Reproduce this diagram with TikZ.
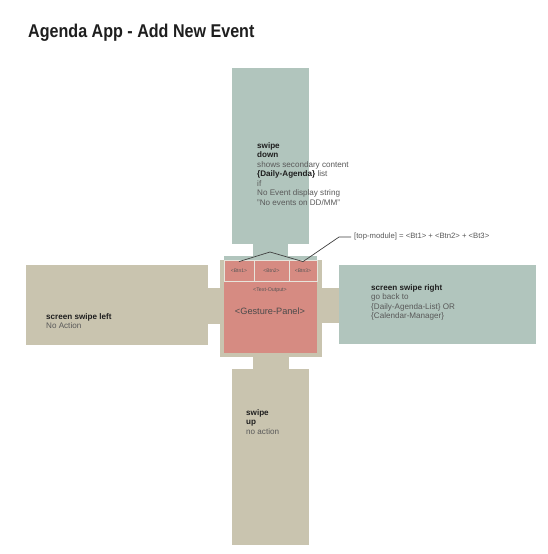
\documentclass[tikz,border=0pt]{standalone}
\usepackage{fontspec}
\setmainfont{Liberation Sans}
\newfontfamily\headfont[FakeStretch=0.87]{Liberation Sans}
\usepackage{tikz}
\usetikzlibrary{positioning}

\definecolor{sage}{HTML}{B1C5BD}
\definecolor{sand}{HTML}{C9C4AF}
\definecolor{salmon}{HTML}{D68B82}
\definecolor{ink}{HTML}{1E1E1E}
\definecolor{soft}{HTML}{595959}

\begin{document}
\begin{tikzpicture}[x=1pt, y=-1pt,
		cell/.style={fill=salmon, draw=sand!45!white, line width=0.8pt, minimum height=21pt, inner sep=0pt, text=ink!75, font=\fontsize{5}{5}\selectfont},
		gist/.style={anchor=north west, align=left, inner sep=0pt, text=soft, font=\fontsize{8.1}{9.5}\selectfont}]
		\useasboundingbox[fill=white] (0, 0) rectangle (547, 554);
		% swipe targets
		\fill[sage] (232, 68) rectangle (309, 244);
		\fill[sage] (253, 244) rectangle (288, 256);
		\fill[sage] (224, 256) rectangle (317, 260);
		\fill[sand] (26, 265) rectangle (208, 345);
		\fill[sand] (208, 288) rectangle (220, 324);
		\fill[sage] (339, 265) rectangle (536, 344);
		\fill[sand] (322, 288) rectangle (339, 323);
		\fill[sand] (253, 357) rectangle (289, 369);
		\fill[sand] (232, 369) rectangle (309, 545);
		% screen
		\fill[sand] (220, 260) rectangle (322, 357);
		\fill[salmon] (224, 260) rectangle (317, 353);
		\node[cell, minimum width=30pt] (btn1) at (239, 270.5) {<Btn1>};
		\node[cell, minimum width=35pt] (btn2) at (271.5, 270.5) {<Btn2>};
		\node[cell, minimum width=28pt] (btn3) at (303, 270.5) {<Btn3>};
		\node[text=ink!75, font=\fontsize{5.3}{6}\selectfont] (output) at (270, 290) {<Text-Output>};
		\node[text=ink!80, font=\fontsize{9.2}{10}\selectfont] (gesture) at (270, 311) {<Gesture-Panel>};

		\node[anchor=base west, inner sep=0pt, text=ink, font=\headfont\bfseries\fontsize{18.5}{20}\selectfont] (title) at (28, 37) {Agenda App - Add New Event};

		\node[gist] (down) at (257, 142) {\textbf{\textcolor{ink}{swipe}}\\\textbf{\textcolor{ink}{down}}\\shows secondary content\\\textbf{\textcolor{ink}{\{Daily-Agenda\}}} list\\if\\No Event display string\\"No events on DD/MM"};
		\node[gist] (left) at (46, 313) {\textbf{\textcolor{ink}{screen swipe left}}\\No Action};
		\node[gist] (right) at (371, 284) {\textbf{\textcolor{ink}{screen swipe right}}\\go back to\\\{Daily-Agenda-List\} OR\\\{Calendar-Manager\}};
		\node[gist] (up) at (246, 409) {\textbf{\textcolor{ink}{swipe}}\\\textbf{\textcolor{ink}{up}}\\no action};

		\node[anchor=west, inner sep=0pt, text=soft, font=\fontsize{7.7}{8}\selectfont] (note) at (354, 237) {[top-module] = <Bt1> + <Btn2> + <Bt3>};
		\coordinate (apex) at (270, 252);
		\coordinate (elbow) at (339, 237);
		\draw[ink!85, line width=0.7pt] ([yshift=-2pt]btn1.north) -- (apex) -- ([yshift=-2pt]btn3.north) -- (elbow) -- ([xshift=-3pt]note.west);
	\end{tikzpicture}
\end{document}
